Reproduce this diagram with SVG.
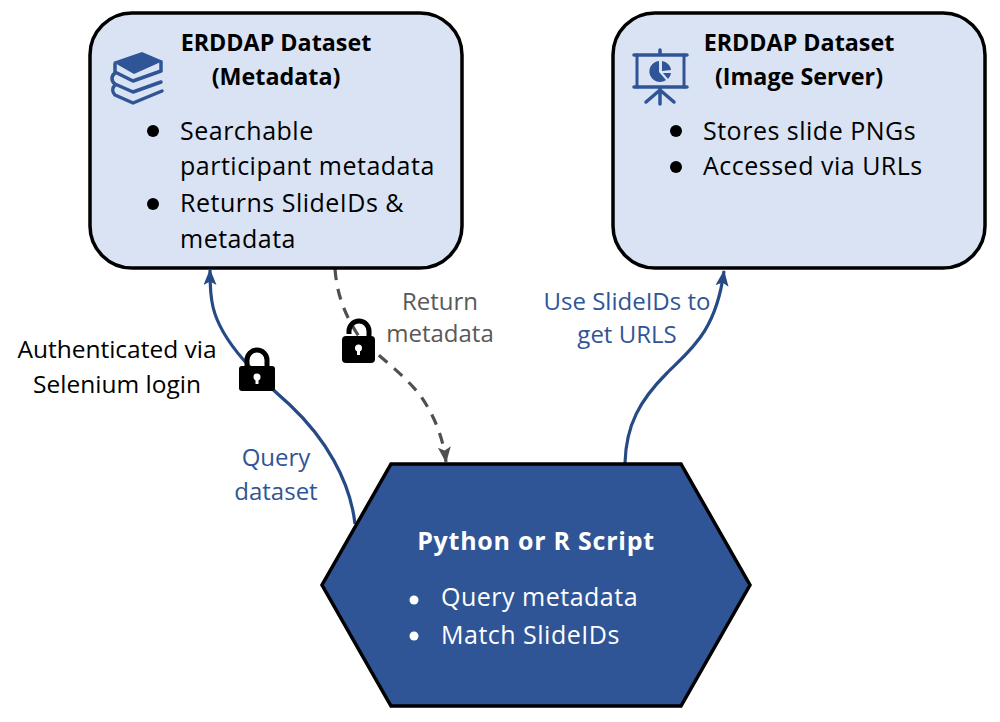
<svg xmlns="http://www.w3.org/2000/svg" width="1000" height="722" viewBox="0 0 1000 722">
<style>
text{font-family:"Open Sans","Noto Sans",sans-serif;font-size:24px;fill:#000}
.t{font-weight:700;text-anchor:middle;font-size:23.300px}
.big{font-size:25px;letter-spacing:.5px}
.blue{fill:#2f5597;text-anchor:middle}
.gray{fill:#595959;text-anchor:middle}
.c{text-anchor:middle;font-size:24.500px}
.w{fill:#fff}
.box{fill:#d9e3f3;stroke:#000;stroke-width:3.5}
.ic{fill:#2f5597}
.icl{fill:none;stroke:#2f5597;stroke-width:3.5;stroke-linecap:round;stroke-linejoin:round}
.ln{fill:none;stroke:#264a85;stroke-width:3.2}
</style>
<defs>
<marker id="ab" markerUnits="userSpaceOnUse" markerWidth="18" markerHeight="14" refX="15" refY="6.500" orient="auto"><path d="M0 0L16 6.500L0 13L3.500 6.500Z" fill="#264a85"/></marker>
<marker id="ag" markerUnits="userSpaceOnUse" markerWidth="18" markerHeight="14" refX="15" refY="6.500" orient="auto"><path d="M0 0L16 6.500L0 13L3.500 6.500Z" fill="#505050"/></marker>
</defs>
<g id="connectors">
<path class="ln" marker-end="url(#ab)" d="M355 524C350 480 325 438 290 405C262 380 222 345 213 307C210 295 210 285 210 270"/>
<path d="M335 269C337 295 345 315 358 335C372 352 400 370 420 395C432 412 443 435 446 462" fill="none" stroke="#505050" stroke-width="3.200" stroke-dasharray="11 9" marker-end="url(#ag)"/>
<path class="ln" marker-end="url(#ab)" d="M625 463C626 425 640 400 667 373C690 350 716 332 724 271"/>
</g>
<g id="node-metadata">
<rect class="box" x="90" y="13" width="372" height="255" rx="42"/>
<path class="ic" d="M113 62L142 52L163 61L134 74Z"/>
<path class="icl" d="M115 64V72L133 81L161 71M161 62V71M115 73C111 76 111 81 115 84L133 92L161 82M115 85C112 88 112 92 115 95L133 103L162 91"/>
<text class="t" x="276" y="51">ERDDAP Dataset</text>
<text class="t" x="276" y="85">(Metadata)</text>
<circle cx="153" cy="131" r="6"/>
<text class="big" x="180" y="140">Searchable</text>
<text class="big" x="180" y="175">participant metadata</text>
<circle cx="153" cy="204" r="6"/>
<text class="big" x="180" y="212">Returns SlideIDs &amp;</text>
<text class="big" x="180" y="248">metadata</text>
</g>
<g id="node-images">
<rect class="box" x="613" y="13" width="372" height="255" rx="42"/>
<path class="icl" d="M634 55H687M634 87H687M660 50V55M660 87V104M660 90L646 102M660 90L674 102"/>
<path class="icl" style="stroke-width:3" d="M637 55V87M684 55V87"/>
<path class="ic" d="M659 61V72L666 80A10.500 10.500 0 1 1 659 61Z"/>
<path class="ic" d="M662 61A10 10 0 0 1 671 70L662 71Z"/>
<path class="ic" d="M663 73H671A10 10 0 0 1 668 79Z"/>
<text class="t" x="799" y="51">ERDDAP Dataset</text>
<text class="t" x="799" y="85">(Image Server)</text>
<circle cx="676" cy="131" r="6"/>
<text class="big" x="703" y="140">Stores slide PNGs</text>
<circle cx="676" cy="167" r="6"/>
<text class="big" x="703" y="175">Accessed via URLs</text>
</g>
<g id="node-script">
<path d="M391 464H681L750 585L681 706H391L322 585Z" fill="#2f5597" stroke="#000" stroke-width="3.500"/>
<text class="w" x="536" y="550" style="font-weight:700;font-size:25px;letter-spacing:.75px;text-anchor:middle">Python or R Script</text>
<circle cx="414" cy="600" r="4.500" fill="#fff"/>
<text class="big w" x="441" y="606">Query metadata</text>
<circle cx="414" cy="636" r="4.500" fill="#fff"/>
<text class="big w" x="441" y="644">Match SlideIDs</text>
</g>
<g id="labels">
<text class="c" x="117" y="358">Authenticated via</text>
<text class="c" x="117" y="393">Selenium login</text>
<text class="blue" x="276" y="466">Query</text>
<text class="blue" x="276" y="500">dataset</text>
<text class="gray" x="440" y="310">Return</text>
<text class="gray" x="440" y="342">metadata</text>
<text class="blue" x="627" y="310">Use SlideIDs to</text>
<text class="blue" x="627" y="343">get URLS</text>
</g>
<g id="lock-left">
<path d="M247 368V360A10 10 0 0 1 267 360V368" fill="none" stroke="#000" stroke-width="5"/>
<rect x="239" y="366" width="36" height="25" rx="3" fill="#000"/>
<circle cx="257" cy="377" r="3.500" fill="#fff"/><rect x="255.500" y="377" width="3" height="7" fill="#fff"/>
</g>
<g id="lock-right">
<path d="M349 334V331A10 10 0 0 1 369 331V338" fill="none" stroke="#000" stroke-width="5"/>
<rect x="342" y="336" width="33" height="27" rx="4" fill="#000"/>
<circle cx="358.500" cy="348" r="3.500" fill="#fff"/><rect x="357" y="348" width="3" height="7" fill="#fff"/>
</g>
</svg>
